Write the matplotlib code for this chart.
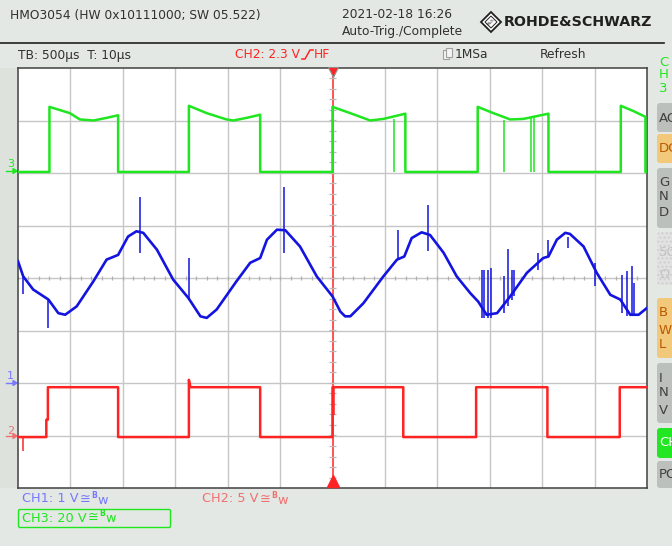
import numpy as np
import matplotlib.pyplot as plt
from matplotlib.patches import Rectangle, FancyBboxPatch, Polygon

W, H = 672, 546

# trace data in screen divisions (x: -6..6, 500 us/div; y: -4..4)
ch3_t = [-6.0, -5.40, -5.40, -5.01, -4.82, -4.56, -4.31, -4.09, -4.09,
         -2.74, -2.74, -2.40, -2.02, -1.89, -1.64, -1.38, -1.38,
         0.0, 0.0, 0.34, 0.72, 0.97, 1.39, 1.39,
         2.77, 2.77, 3.07, 3.39, 3.64, 4.12, 4.12,
         5.50, 5.50, 5.74, 5.97, 5.97, 6.0]
ch3_v = [2.02, 2.02, 3.26, 3.14, 3.02, 3.00, 3.05, 3.10, 2.02,
         2.02, 3.28, 3.14, 3.02, 3.00, 3.05, 3.11, 2.02,
         2.02, 3.26, 3.14, 3.00, 3.03, 3.13, 2.02,
         2.02, 3.26, 3.14, 3.02, 3.03, 3.13, 2.02,
         2.02, 3.28, 3.18, 3.07, 2.02, 2.02]
ch3_glitch_t = [1.18, 3.28, 3.78, 3.85]
ch3_glitch_top = [3.03, 3.01, 3.06, 3.07]
ch3_low = 2.02

ch1_t = [-6.0, -5.90, -5.71, -5.42, -5.23, -5.10, -4.88, -4.56, -4.31, -4.09,
         -3.90, -3.74, -3.61, -3.35, -3.04, -2.75, -2.52, -2.40, -2.21, -1.83,
         -1.57, -1.38, -1.25, -1.06, -0.90, -0.62, -0.30, 0.0, 0.15, 0.24,
         0.34, 0.59, 0.97, 1.23, 1.37, 1.51, 1.70, 1.86, 2.12, 2.37,
         2.63, 2.78, 2.94, 3.14, 3.39, 3.71, 4.02, 4.12, 4.28, 4.44,
         4.53, 4.79, 5.04, 5.30, 5.49, 5.68, 5.84, 6.0]
ch1_v = [0.32, 0.03, -0.22, -0.41, -0.67, -0.70, -0.54, -0.06, 0.35, 0.44,
         0.79, 0.89, 0.86, 0.54, -0.03, -0.38, -0.73, -0.76, -0.60, -0.06,
         0.29, 0.38, 0.73, 0.92, 0.91, 0.60, 0.03, -0.35, -0.64, -0.73,
         -0.73, -0.48, 0.03, 0.35, 0.41, 0.76, 0.87, 0.82, 0.48, 0.03,
         -0.29, -0.45, -0.70, -0.67, -0.35, 0.10, 0.38, 0.41, 0.73, 0.86,
         0.84, 0.60, 0.10, -0.32, -0.41, -0.70, -0.70, -0.57]
ch1_spike_t = [-5.90, -5.42, -3.68, -2.73, -0.92, 1.25, 1.82, 2.85, 2.89, 2.97,
               3.03, 3.27, 3.34, 3.42, 3.47, 3.93, 4.12, 4.50, 5.00, 5.52,
               5.62, 5.71, 5.76]
ch1_spike_lo = [-0.30, -0.95, 0.48, -0.41, 0.48, 0.35, 0.51, -0.76, -0.76, -0.76,
                -0.76, -0.67, -0.54, -0.41, -0.35, 0.16, 0.41, 0.57, -0.16, -0.67,
                -0.73, -0.73, -0.73]
ch1_spike_hi = [0.03, -0.41, 1.55, 0.38, 1.74, 0.92, 1.40, 0.16, 0.16, 0.16,
                0.20, 0.03, 0.55, 0.16, 0.16, 0.48, 0.73, 0.79, 0.29, 0.06,
                0.13, 0.22, -0.10]

ch2_t = [-6.0, -5.46, -5.46, -5.43, -5.43, -4.09, -4.09, -2.74, -2.74, -2.71,
         -1.38, -1.38, 0.0, 0.0, 1.35, 1.35, 2.74, 2.74, 4.10, 4.10,
         5.48, 5.48, 6.0]
ch2_v = [-3.03, -3.03, -2.70, -2.70, -2.08, -2.08, -3.03, -3.03, -1.94, -2.08,
         -2.08, -3.03, -3.03, -2.08, -2.08, -3.03, -3.03, -2.08, -2.08, -3.03,
         -3.03, -2.08, -2.08]
ch2_spike_t = [-5.91, 0.02]
ch2_spike_lo = [-3.30, -2.60]
ch2_spike_hi = [-3.03, -2.08]

GREEN = '#1fe61f'
BLUE = '#1414e0'
RED = '#ff2424'
BG = '#e4e8e4'

fig = plt.figure(figsize=(W / 100, H / 100), dpi=100, facecolor=BG)
renderer = fig.canvas.get_renderer()

# screen furniture drawn in pixel coordinates
ui = fig.add_axes([0, 0, 1, 1])
ui.set_xlim(0, W)
ui.set_ylim(H, 0)
ui.axis('off')


def put(x, y, s, **kw):
    """Place text at pixel position, return the x where it ends."""
    t = ui.text(x, y, s, **kw)
    return x + t.get_window_extent(renderer).width


ui.add_patch(Rectangle((0, 68), 17, 420, facecolor='#dde2dd', edgecolor='none'))
ui.plot([0, 664], [43, 43], color='#202020', lw=1.2)

txt = dict(fontsize=8.8, color='#303030', va='center', ha='left', family='DejaVu Sans')
ui.text(10, 15, 'HMO3054 (HW 0x10111000; SW 05.522)', **txt)
ui.text(342, 14, '2021-02-18 16:26', **txt)
ui.text(342, 31, 'Auto-Trig./Complete', **txt)
ui.text(18, 55, 'TB: 500\u00b5s  T: 10\u00b5s', **txt)
xe = put(235, 55, 'CH2: 2.3 V', **{**txt, 'color': RED})
ui.plot([xe + 2, xe + 5, xe + 10, xe + 13], [59, 59, 50, 50], color=RED, lw=1.1)
ui.text(xe + 14, 55, 'HF', **{**txt, 'color': RED})
ui.text(455, 55, '1MSa', **txt)
ui.text(540, 55, 'Refresh', **txt)
ui.add_patch(Rectangle((443, 50), 6, 9, facecolor='#f4f4f4', edgecolor='#a0a0a0', lw=0.8))
ui.add_patch(Rectangle((446, 48), 6, 9, facecolor='#f4f4f4', edgecolor='#a0a0a0', lw=0.8))

# R&S logo
ui.add_patch(Polygon([(491, 12), (501, 22), (491, 32), (481, 22)], closed=True,
                     facecolor='white', edgecolor='#202020', lw=1.3))
ui.add_patch(Polygon([(491, 16), (497, 22), (491, 28), (485, 22)], closed=True,
                     facecolor='white', edgecolor='#202020', lw=0.7))
ui.text(491, 22, 'R&S', fontsize=3, rotation=45, ha='center', va='center', color='#202020')
ui.text(504, 22, 'ROHDE&SCHWARZ', fontsize=10.3, fontweight='bold', color='#202020',
        ha='left', va='center')

# softkey column on the right edge
keys = [(103, 132, '#bcc0bc', ['AC'], '#404040', [118]),
        (134, 163, '#f2c87a', ['DC'], '#b85a00', [148]),
        (168, 228, '#bcc0bc', ['G', 'N', 'D'], '#404040', [182, 197, 213]),
        (298, 358, '#f2c87a', ['B', 'W', 'L'], '#b85a00', [313, 330, 345]),
        (363, 423, '#bcc0bc', ['I', 'N', 'V'], '#404040', [378, 393, 410]),
        (428, 458, '#22e622', ['CH'], 'white', [443]),
        (461, 488, '#bcc0bc', ['PO'], '#404040', [475])]
for y0, y1, fc, labels, tc, ys in keys:
    ui.add_patch(FancyBboxPatch((657, y0), 30, y1 - y0, boxstyle='round,pad=0,rounding_size=3',
                                facecolor=fc, edgecolor='none'))
    for lab, yy in zip(labels, ys):
        ui.text(659, yy, lab, fontsize=9.5, color=tc, ha='left', va='center')
ui.add_patch(FancyBboxPatch((657, 232), 30, 53, boxstyle='round,pad=0,rounding_size=3',
                            facecolor='#e2e2e2', edgecolor='#cfcfcf', hatch='....', lw=0))
ui.text(659, 252, '50', fontsize=9.5, color='#c4c4c4', ha='left', va='center')
ui.text(659, 275, '\u03a9', fontsize=9.5, color='#c4c4c4', ha='left', va='center')
for lab, yy in zip(['C', 'H', '3'], [62, 75, 88]):
    ui.text(659, yy, lab, fontsize=9.5, color=GREEN, ha='left', va='center')

# channel ground markers
for lab, ty, ay, col in [('3', 164, 171, GREEN), ('1', 376, 383, '#7878ff'),
                         ('2', 431, 436, '#f07070')]:
    ui.text(7, ty, lab, fontsize=8, color=col, ha='left', va='center')
    ui.plot([6, 14], [ay, ay], color=col, lw=1)
    ui.add_patch(Polygon([(13, ay - 2.5), (17, ay), (13, ay + 2.5)], color=col))
ui.text(633, 413, '+T-', fontsize=6, color=RED, ha='left', va='center')

# channel settings along the bottom
lab = dict(fontsize=9.3, ha='left', va='center')
for x0, y0, s, col in [(22, 499, 'CH1: 1 V', '#7878ff'), (202, 499, 'CH2: 5 V', '#f07070'),
                       (22, 518, 'CH3: 20 V', GREEN)]:
    xe = put(x0, y0, s, color=col, **lab)
    xe = put(xe + 1, y0, '\u2245', color=col, **lab)
    xe = put(xe + 1, y0 - 4, 'B', color=col, fontsize=5.5, ha='left', va='center',
             fontweight='bold')
    ui.text(xe + 0.5, y0 + 1, 'w', color=col, **lab)
ui.add_patch(FancyBboxPatch((18.5, 509.5), 152, 18, boxstyle='round,pad=0,rounding_size=1.5',
                            facecolor='none', edgecolor=GREEN, lw=1))

# graticule
ax = fig.add_axes([18 / W, 1 - 488 / H, 629 / W, 420 / H])
ax.set_facecolor('white')
ax.set_xlim(-6, 6)
ax.set_ylim(-4, 4)
ax.set_xticks([])
ax.set_yticks([])
for sp in ax.spines.values():
    sp.set_color('#404040')
    sp.set_linewidth(1.1)
gc = '#c6c6c6'
ax.vlines([x for x in range(-5, 6) if x != 0], -4, 4, color=gc, lw=1, zorder=1)
ax.hlines(range(-3, 4), -6, 6, color=gc, lw=1, zorder=1)
minor_x = np.arange(-6, 6.01, 0.2)
minor_y = np.arange(-4, 4.01, 0.2)
ax.vlines(minor_x, -0.035, 0.035, color='#b0b0b0', lw=0.9, zorder=1)
ax.axvline(0, color=RED, lw=1.1, zorder=2)
ax.hlines(minor_y, -0.07, 0.07, color='#b8b8b8', lw=0.9, zorder=2.5)

# traces
ax.plot(ch3_t, ch3_v, color=GREEN, lw=1.8, zorder=4)
ax.vlines(ch3_glitch_t, ch3_low, ch3_glitch_top, color=GREEN, lw=1.1, zorder=4)
ax.plot(ch1_t, ch1_v, color=BLUE, lw=1.9, zorder=5)
ax.vlines(ch1_spike_t, ch1_spike_lo, ch1_spike_hi, color=BLUE, lw=1.1, zorder=5)
ax.plot(ch2_t, ch2_v, color=RED, lw=1.8, zorder=3)
ax.vlines(ch2_spike_t, ch2_spike_lo, ch2_spike_hi, color=RED, lw=1.1, zorder=3)

# trigger position markers
ax.plot([0], [3.93], marker='v', ms=7, color=RED, mec='#909090', mew=0.8, clip_on=False, zorder=6)
ax.plot([0], [-3.86], marker='^', ms=9, color=RED, mec=RED, clip_on=False, zorder=6)

fig.savefig('out.png', dpi=100, facecolor=BG)
